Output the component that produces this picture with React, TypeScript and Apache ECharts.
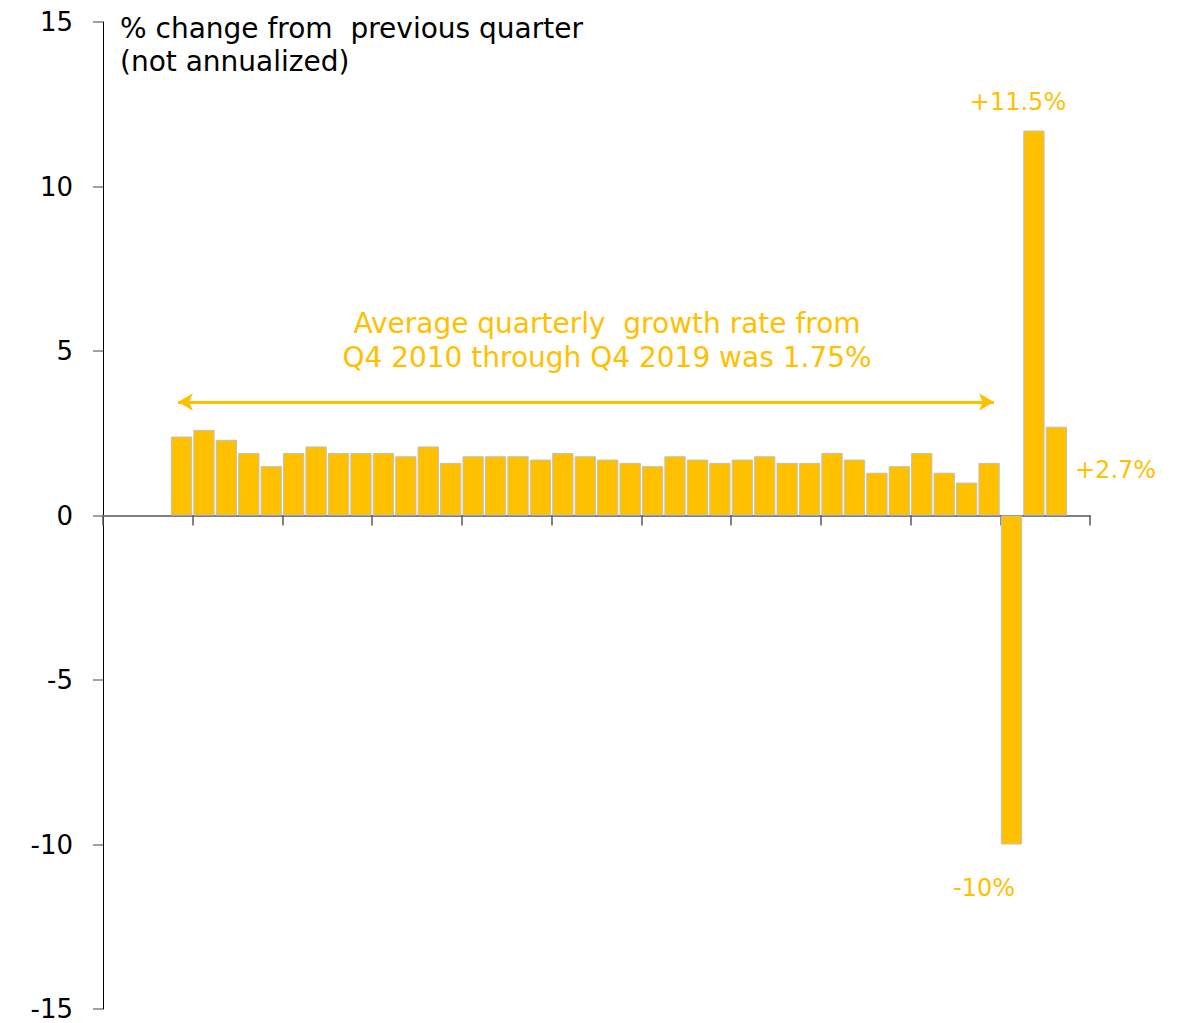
import React, { useEffect, useRef } from "react";
import * as echarts from "echarts";

const quarters = [
  "Q1 2010", "Q2 2010", "Q3 2010", "Q4 2010",
  "Q1 2011", "Q2 2011", "Q3 2011", "Q4 2011",
  "Q1 2012", "Q2 2012", "Q3 2012", "Q4 2012",
  "Q1 2013", "Q2 2013", "Q3 2013", "Q4 2013",
  "Q1 2014", "Q2 2014", "Q3 2014", "Q4 2014",
  "Q1 2015", "Q2 2015", "Q3 2015", "Q4 2015",
  "Q1 2016", "Q2 2016", "Q3 2016", "Q4 2016",
  "Q1 2017", "Q2 2017", "Q3 2017", "Q4 2017",
  "Q1 2018", "Q2 2018", "Q3 2018", "Q4 2018",
  "Q1 2019", "Q2 2019", "Q3 2019", "Q4 2019",
  "Q1 2020", "Q2 2020", "Q3 2020", "Q4 2020",
];

// % change from previous quarter (null = no bar)
const growth = [
  null, null, null, 2.4,
  2.6, 2.3, 1.9, 1.5,
  1.9, 2.1, 1.9, 1.9,
  1.9, 1.8, 2.1, 1.6,
  1.8, 1.8, 1.8, 1.7,
  1.9, 1.8, 1.7, 1.6,
  1.5, 1.8, 1.7, 1.6,
  1.7, 1.8, 1.6, 1.6,
  1.9, 1.7, 1.3, 1.5,
  1.9, 1.3, 1.0, 1.6,
  -10, 11.7, 2.7, null,
];

const yTicks = [-15, -10, -5, 0, 5, 10, 15];

// Average arrow span (in category-slot units) and its height on the value axis
const arrowFrom = 3.34;
const arrowTo = 39.72;
const arrowLevel = 3.45;

const FONT = "DejaVu Sans";
const GOLD = "#FFC000";

export default function App() {
  const ref = useRef<HTMLDivElement>(null);
  useEffect(() => {
    if (!ref.current) return;
    const chart = echarts.init(ref.current, null, { renderer: "svg" });
    chart.setOption({
      animation: false,
      textStyle: { fontFamily: FONT },
      grid: { left: 103, right: 95, top: 22, bottom: 14, containLabel: false },
      xAxis: [
        {
          type: "category",
          data: quarters,
          boundaryGap: true,
          position: "bottom",
          axisLine: { onZero: true, lineStyle: { color: "#7f7f7f", width: 2 } },
          axisTick: {
            show: true,
            interval: 3,
            length: 10,
            inside: false,
            lineStyle: { color: "#595959", width: 1.5 },
          },
          axisLabel: { show: false },
          splitLine: { show: false },
        },
        {
          type: "value",
          min: 0,
          max: quarters.length,
          show: false,
        },
      ],
      yAxis: {
        type: "value",
        min: yTicks[0],
        max: yTicks[yTicks.length - 1],
        interval: 5,
        axisLine: { show: true, lineStyle: { color: "#000", width: 1 } },
        axisTick: { show: true, length: 10, lineStyle: { color: "#808080", width: 1.5 } },
        axisLabel: {
          fontSize: 26,
          lineHeight: 22,
          padding: [0, 0, 6, 0],
          color: "#000",
          margin: 30,
          fontFamily: FONT,
        },
        splitLine: { show: false },
      },
      series: [
        {
          type: "bar",
          data: growth,
          barCategoryGap: "5%",
          itemStyle: { color: GOLD, borderColor: "#c0c0c0", borderWidth: 1 },
        },
        {
          type: "line",
          xAxisIndex: 1,
          data: [
            [arrowFrom, arrowLevel],
            [arrowTo, arrowLevel],
          ],
          showSymbol: false,
          symbol: "none",
          lineStyle: { opacity: 0 },
          silent: true,
          markLine: {
            silent: true,
            symbol: ["arrow", "arrow"],
            symbolSize: [13, 15],
            label: { show: false },
            lineStyle: { color: GOLD, width: 3, type: "solid" },
            data: [
              [
                { coord: [arrowFrom, arrowLevel] },
                { coord: [arrowTo, arrowLevel] },
              ],
            ],
          },
        },
      ],
      graphic: [
        {
          type: "text",
          left: 120,
          top: 12,
          style: {
            text: "% change from  previous quarter\n(not annualized)",
            font: `28px '${FONT}'`,
            fill: "#000",
            lineHeight: 33,
          },
        },
        {
          type: "text",
          x: 607,
          y: 306,
          style: {
            text: "Average quarterly  growth rate from\nQ4 2010 through Q4 2019 was 1.75%",
            font: `28px '${FONT}'`,
            fill: GOLD,
            align: "center",
            lineHeight: 34,
          },
        },
        {
          type: "text",
          x: 1018,
          y: 102,
          style: { text: "+11.5%", font: `24px '${FONT}'`, fill: GOLD, align: "center", verticalAlign: "middle" },
        },
        {
          type: "text",
          x: 984,
          y: 888,
          style: { text: "-10%", font: `24px '${FONT}'`, fill: GOLD, align: "center", verticalAlign: "middle" },
        },
        {
          type: "text",
          x: 1075,
          y: 470,
          style: { text: "+2.7%", font: `24px '${FONT}'`, fill: GOLD, align: "left", verticalAlign: "middle" },
        },
      ],
    });
    return () => chart.dispose();
  }, []);
  return <div ref={ref} style={{ width: 1185, height: 1023, position: "absolute", left: 0, top: 0 }} />;
}
